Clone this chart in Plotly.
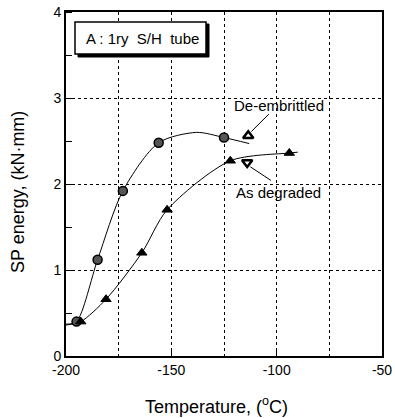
import plotly.graph_objects as go

# Data
de_x = [-195, -185, -173, -156, -125]
de_y = [0.40, 1.12, 1.92, 2.48, 2.54]
as_x = [-193, -181, -164, -152, -122, -94]
as_y = [0.40, 0.66, 1.20, 1.70, 2.27, 2.36]

# Hand-drawn fit curves
de_curve_x = [-200, -195, -185, -173, -156, -138, -125, -113]
de_curve_y = [0.37, 0.40, 1.12, 1.92, 2.48, 2.60, 2.54, 2.47]
as_curve_x = [-200, -193, -181, -164, -152, -122, -94, -90]
as_curve_y = [0.36, 0.40, 0.66, 1.20, 1.70, 2.27, 2.36, 2.37]

# legend-like symbol positions
sym_up = (-113.5, 2.56)
sym_dn = (-114, 2.25)

x_ticks = [-200, -150, -100, -50]
x_ticktext = ["-200", "-150", "-100", "-50"]
y_ticks = [0, 1, 2, 3, 4]

font = "Liberation Sans, Arial, sans-serif"

fig = go.Figure()
fig.add_trace(go.Scatter(x=de_curve_x, y=de_curve_y, mode="lines",
                         line=dict(color="black", width=1, shape="spline", smoothing=0.8),
                         showlegend=False, hoverinfo="skip"))
fig.add_trace(go.Scatter(x=as_curve_x, y=as_curve_y, mode="lines",
                         line=dict(color="black", width=1, shape="spline", smoothing=0.8),
                         showlegend=False, hoverinfo="skip"))
fig.add_trace(go.Scatter(x=de_x, y=de_y, mode="markers", name="De-embrittled",
                         marker=dict(symbol="circle", size=9, color="#555555",
                                     line=dict(color="black", width=1.5)),
                         showlegend=False))
fig.add_trace(go.Scatter(x=as_x, y=as_y, mode="markers", name="As degraded",
                         marker=dict(symbol="triangle-up", size=9, color="black",
                                     line=dict(color="black", width=1)),
                         showlegend=False))
fig.add_trace(go.Scatter(x=[sym_up[0]], y=[sym_up[1]], mode="markers",
                         marker=dict(symbol="triangle-up-open", size=9, color="black",
                                     line=dict(color="black", width=2.5)),
                         showlegend=False))
fig.add_trace(go.Scatter(x=[sym_dn[0]], y=[sym_dn[1]], mode="markers",
                         marker=dict(symbol="triangle-down-open", size=9, color="black",
                                     line=dict(color="black", width=2.5)),
                         showlegend=False))

# arrows
fig.add_annotation(x=sym_up[0] + 1.5, y=sym_up[1] + 0.05, ax=-103, ay=2.83,
                   xref="x", yref="y", axref="x", ayref="y", text="",
                   showarrow=True, arrowhead=0, arrowwidth=1, arrowcolor="black")
fig.add_annotation(x=sym_dn[0] + 1.5, y=sym_dn[1] - 0.05, ax=-102, ay=2.03,
                   xref="x", yref="y", axref="x", ayref="y", text="",
                   showarrow=True, arrowhead=0, arrowwidth=1, arrowcolor="black")
fig.add_annotation(x=-99, y=2.91, xref="x", yref="y", text="De-embrittled",
                   showarrow=False, xanchor="center", yanchor="middle",
                   font=dict(family=font, size=15, color="black"))
fig.add_annotation(x=-99, y=1.90, xref="x", yref="y", text="As degraded",
                   showarrow=False, xanchor="center", yanchor="middle",
                   font=dict(family=font, size=15, color="black"))

# box label with shadow
fig.add_shape(type="rect", xref="paper", yref="paper",
              x0=(78 - 66) / 316, x1=(209 - 66) / 316,
              y0=(356 - 57) / 344, y1=(356 - 24) / 344,
              fillcolor="black", line=dict(color="black", width=1))
fig.add_shape(type="rect", xref="paper", yref="paper",
              x0=(75 - 66) / 316, x1=(206 - 66) / 316,
              y0=(356 - 54) / 344, y1=(356 - 22) / 344,
              fillcolor="white", line=dict(color="black", width=1.5))
fig.add_annotation(xref="paper", yref="paper", x=(142 - 66) / 316, y=(356 - 38) / 344,
                   text="A : 1ry  S/H  tube", showarrow=False,
                   xanchor="center", yanchor="middle",
                   font=dict(family=font, size=15, color="black"))

# axis titles
fig.add_annotation(xref="paper", yref="paper", x=(216 - 66) / 316, y=(356 - 405) / 344,
                   text="Temperature, (<sup>o</sup>C)", showarrow=False,
                   xanchor="center", yanchor="middle",
                   font=dict(family=font, size=18, color="black"))
fig.add_annotation(xref="paper", yref="paper", x=(18 - 66) / 316, y=(356 - 192) / 344,
                   text="SP energy, (kN·mm)", showarrow=False, textangle=-90,
                   xanchor="center", yanchor="middle",
                   font=dict(family=font, size=18, color="black"))

fig.update_layout(
    width=395, height=418,
    margin=dict(l=66, r=13, t=12, b=62),
    paper_bgcolor="white", plot_bgcolor="white",
    font=dict(family=font, size=14, color="black"),
    xaxis=dict(range=[-200, -50], tickvals=x_ticks, ticktext=x_ticktext,
               showgrid=True, automargin=False,
               gridcolor="black", griddash="3px,3px", gridwidth=1,
               showline=True, linecolor="black", linewidth=2, mirror=True,
               ticks="inside", ticklen=5, tickcolor="black", zeroline=False,
               minor=dict(dtick=25, tick0=-200, showgrid=True, gridcolor="black",
                          griddash="3px,3px", gridwidth=1, ticks="")),
    yaxis=dict(range=[0, 4], tickvals=y_ticks, showgrid=True, automargin=False,
               gridcolor="black", griddash="3px,3px", gridwidth=1,
               showline=True, linecolor="black", linewidth=2, mirror=True,
               ticks="", zeroline=False,
               minor=dict(dtick=0.5, ticks="inside", ticklen=6, tickcolor="black",
                          showgrid=False)),
)

fig.write_html("out.html")
